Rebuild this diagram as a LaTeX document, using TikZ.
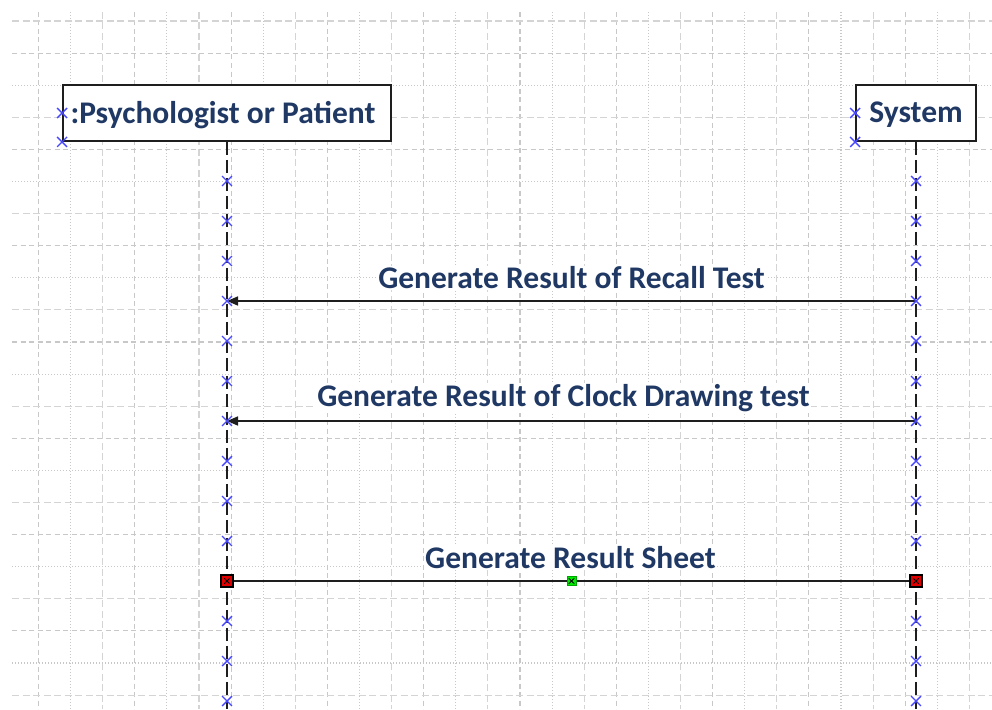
\documentclass[tikz,border=0pt]{standalone}
\usepackage{fontspec}
\setmainfont{Carlito}
\usetikzlibrary{arrows.meta,shapes.misc,calc}

\definecolor{labelblue}{RGB}{31,56,100}
\definecolor{gridgray}{RGB}{200,200,200}
\definecolor{gridlight}{RGB}{212,212,212}
\definecolor{markblue}{RGB}{72,72,255}
\definecolor{inkdark}{RGB}{30,30,30}
\definecolor{handlered}{RGB}{225,0,0}
\definecolor{handlegreen}{RGB}{0,235,0}

\tikzset{
  gridline/.style={gridgray, line width=1.1pt},
  gridA/.style={dash pattern=on 5pt off 3.5pt},
  gridB/.style={dash pattern=on 1.2pt off 1.8pt},
  gridC/.style={gridlight, dash pattern=on 7pt off 3.5pt},
  lifebox/.style={draw=inkdark, line width=1.8pt, fill=white, inner sep=0pt,
    font=\fontsize{31.5}{36}\selectfont\bfseries, text=labelblue},
  boxtext/.style={text=labelblue, font=\fontsize{31.5}{36}\selectfont\bfseries, inner sep=0pt},
  lifeline/.style={inkdark, line width=1.8pt, dash pattern=on 13pt off 5pt},
  msg/.style={inkdark, line width=1.6pt},
  msgarrow/.style={msg, -{Triangle[length=11pt,width=9pt]}},
  msglabel/.style={fill=white, inner sep=1pt, text=labelblue,
    font=\fontsize{31.5}{36}\selectfont\bfseries},
  xmark/.style={cross out, draw=markblue, line width=1.4pt, minimum size=8.5pt, inner sep=0pt},
  redhandle/.style={draw=black, line width=1.3pt, fill=handlered, minimum size=12pt, inner sep=0pt},
  greenhandle/.style={draw=handlegreen!70!black, line width=0.8pt, fill=handlegreen, minimum size=9pt, inner sep=0pt},
  innermark/.style={cross out, draw=black, line width=0.9pt, minimum size=4.5pt, inner sep=0pt}
}

\begin{document}
\begin{tikzpicture}[x=1pt,y=-1pt]
\useasboundingbox (0,0) rectangle (992,709);
\fill[white] (0,0) rectangle (992,709);

% background drawing grid
\foreach \k in {0,...,29}{
  \pgfmathsetmacro\gx{38.5+32.1*\k}
  \pgfmathtruncatemacro\m{mod(\k,3)}
  \ifcase\m
    \draw[gridline,gridA] (\gx,12) -- (\gx,709);
  \or
    \draw[gridline,gridB] (\gx,12) -- (\gx,709);
  \else
    \draw[gridline,gridC] (\gx,12) -- (\gx,709);
  \fi
}
\foreach \k in {0,...,21}{
  \pgfmathsetmacro\gy{21+32.1*\k}
  \pgfmathtruncatemacro\m{mod(\k+2,3)}
  \ifcase\m
    \draw[gridline,gridA] (12,\gy) -- (992,\gy);
  \or
    \draw[gridline,gridB] (12,\gy) -- (992,\gy);
  \else
    \draw[gridline,gridC] (12,\gy) -- (992,\gy);
  \fi
}

% participants
\node[lifebox, minimum width=328pt, minimum height=56pt] (pp) at (227,113) {};
\node[boxtext] (pplabel) at (223,115) {:Psychologist or Patient};
\node[lifebox, minimum width=120pt, minimum height=56pt] (sys) at (916,113) {};
\node[boxtext] (syslabel) at (916,115) {System};

% lifeline anchor points
\foreach \k in {0,...,13}{
  \coordinate (pp\k) at (227,181+40*\k);
  \coordinate (sy\k) at (916,181+40*\k);
}
\coordinate (ppend) at (227,709);
\coordinate (syend) at (916,709);

\draw[lifeline] (pp.south) -- (ppend);
\draw[lifeline] (sys.south) -- (syend);

% messages
\draw[msgarrow] (sy3) -- (pp3);
\draw[msgarrow] (sy6) -- (pp6);
\draw[msg] (pp10) -- (sy10);

\node[msglabel] (m1) at ($(pp3)!0.5!(sy3)+(0,-23)$) {Generate Result of Recall Test};
\node[msglabel] (m2) at ($(pp6)!0.5!(sy6)+(-8,-23)$) {Generate Result of Clock Drawing test};
\node[msglabel] (m3) at ($(pp10)!0.5!(sy10)+(-1,-23)$) {Generate Result Sheet};

% connection points
\foreach \k in {0,...,9,11,12,13}{
  \node[xmark] at (pp\k) {};
  \node[xmark] at (sy\k) {};
}
\node[xmark] (ppc1) at (pp.west) {};
\node[xmark] (ppc2) at (pp.south west) {};
\node[xmark] (syc1) at (sys.west) {};
\node[xmark] (syc2) at (sys.south west) {};

% selection handles of the last message
\node[redhandle] (h1) at (pp10) {};
\node[innermark] at (h1) {};
\node[redhandle] (h2) at (sy10) {};
\node[innermark] at (h2) {};
\node[greenhandle] (h3) at ($(pp10)!0.5!(sy10)$) {};
\node[innermark] at (h3) {};
\end{tikzpicture}
\end{document}
